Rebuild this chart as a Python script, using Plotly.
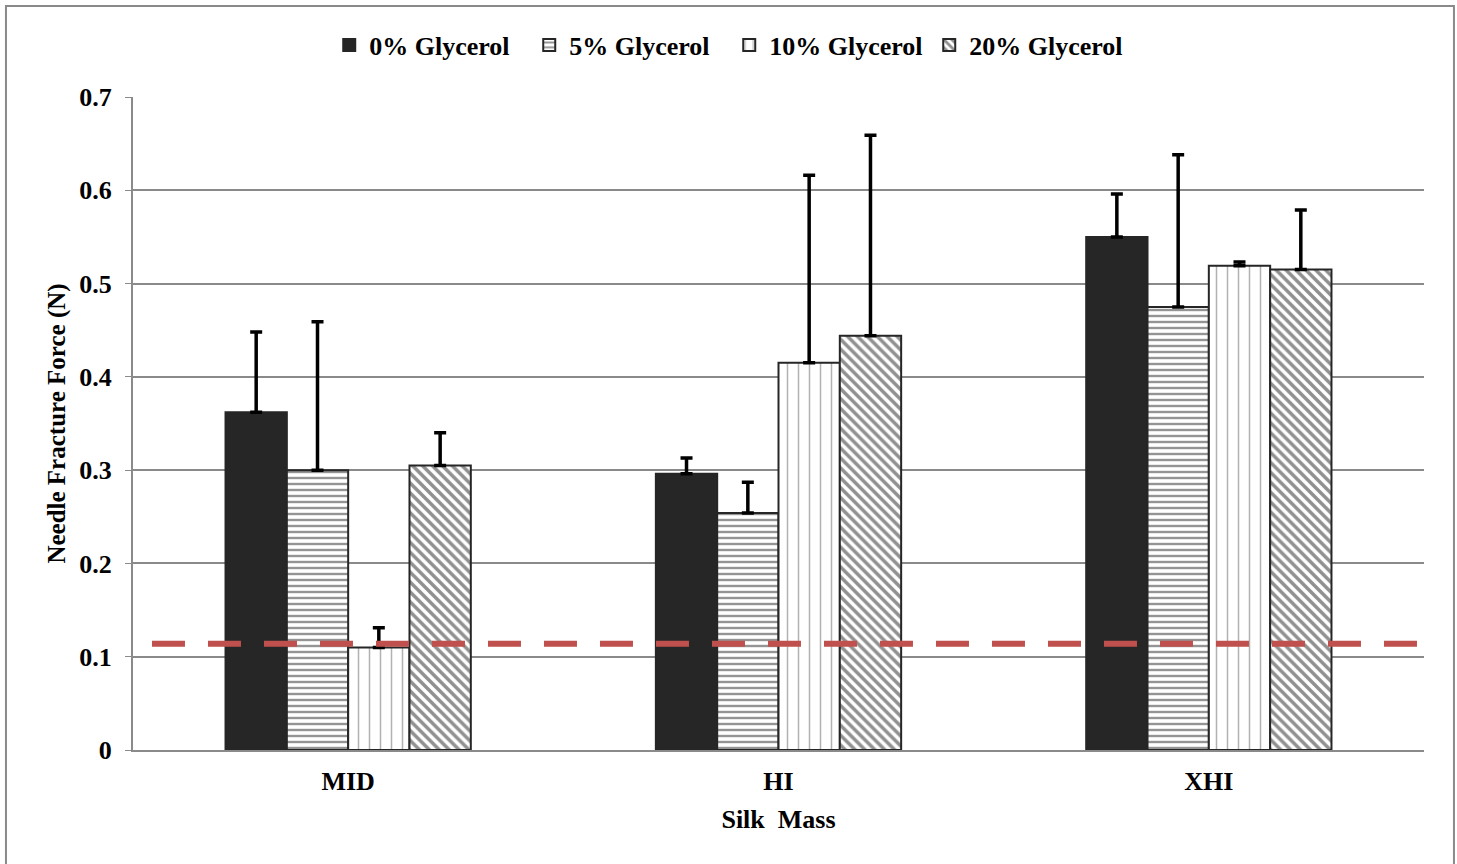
import plotly.graph_objects as go

categories = ["MID", "HI", "XHI"]
series_names = ["0% Glycerol", "5% Glycerol", "10% Glycerol", "20% Glycerol"]
means = [
    [0.362, 0.296, 0.550],
    [0.300, 0.254, 0.475],
    [0.110, 0.415, 0.519],
    [0.305, 0.444, 0.515],
]
errors = [
    [0.086, 0.017, 0.046],
    [0.159, 0.033, 0.163],
    [0.021, 0.201, 0.004],
    [0.035, 0.215, 0.064],
]
threshold = 0.114

FONT = "Liberation Serif"

patterns = [
    dict(shape=""),
    dict(shape="-", size=6, solidity=0.4, fgcolor="#2a2a2a", bgcolor="white"),
    dict(shape="|", size=11, solidity=0.14, fgcolor="#666666", bgcolor="white"),
    dict(shape="\\", size=7, solidity=0.5, fgcolor="#222222", bgcolor="white"),
]
colors = ["#262626", "white", "white", "white"]

fig = go.Figure()
for name, vals, errs, pat, col in zip(series_names, means, errors, patterns, colors):
    fig.add_trace(go.Bar(
        name=name,
        x=categories,
        y=vals,
        marker=dict(color=col, pattern=pat, line=dict(color="#262626", width=2)),
        error_y=dict(type="data", array=errs, arrayminus=[0] * len(errs),
                     symmetric=False, color="black", thickness=3.5, width=6),
    ))

# outer chart frame
fig.add_shape(type="rect", xref="paper", yref="paper",
              x0=-0.0984, x1=1.0232, y0=-0.2, y1=1.1394,
              line=dict(color="#8a8a8a", width=2), fillcolor="rgba(0,0,0,0)", layer="below")

# threshold line
fig.add_shape(type="line", xref="paper", yref="y",
              x0=0.0147, x1=0.995, y0=threshold, y1=threshold,
              line=dict(color="#c0504d", width=6, dash="33px,23px"), layer="above")

fig.update_layout(
    width=1457, height=864,
    margin=dict(l=133, r=33, t=97, b=114),
    paper_bgcolor="white", plot_bgcolor="white",
    barmode="group", bargap=0.43, bargroupgap=0,
    font=dict(family=FONT, color="black", size=26),
    legend=dict(orientation="h", x=0.152, xanchor="left", y=1.0796, yanchor="middle",
                font=dict(family=FONT, size=26, weight="bold"),
                itemwidth=30, tracegroupgap=0,
                entrywidth=155, entrywidthmode="pixels"),
    xaxis=dict(
        tickfont=dict(family=FONT, size=26, weight="bold"),
        ticklabelstandoff=7,
        title=dict(text="Silk  Mass", font=dict(family=FONT, size=26, weight="bold"), standoff=15),
        showline=True, linecolor="#8a8a8a", linewidth=2, ticks="",
    ),
    yaxis=dict(
        range=[0, 0.7], dtick=0.1, tickformat="~g",
        tickfont=dict(family=FONT, size=26, weight="bold"),
        ticklabelstandoff=8,
        title=dict(text="Needle Fracture Force (N)", font=dict(family=FONT, size=25, weight="bold"), standoff=7),
        showgrid=True, gridcolor="#8a8a8a", gridwidth=1.5,
        showline=True, linecolor="#8a8a8a", linewidth=2,
        ticks="outside", ticklen=6, tickcolor="#8a8a8a",
        zeroline=False,
    ),
)

fig.write_html("out.html")
